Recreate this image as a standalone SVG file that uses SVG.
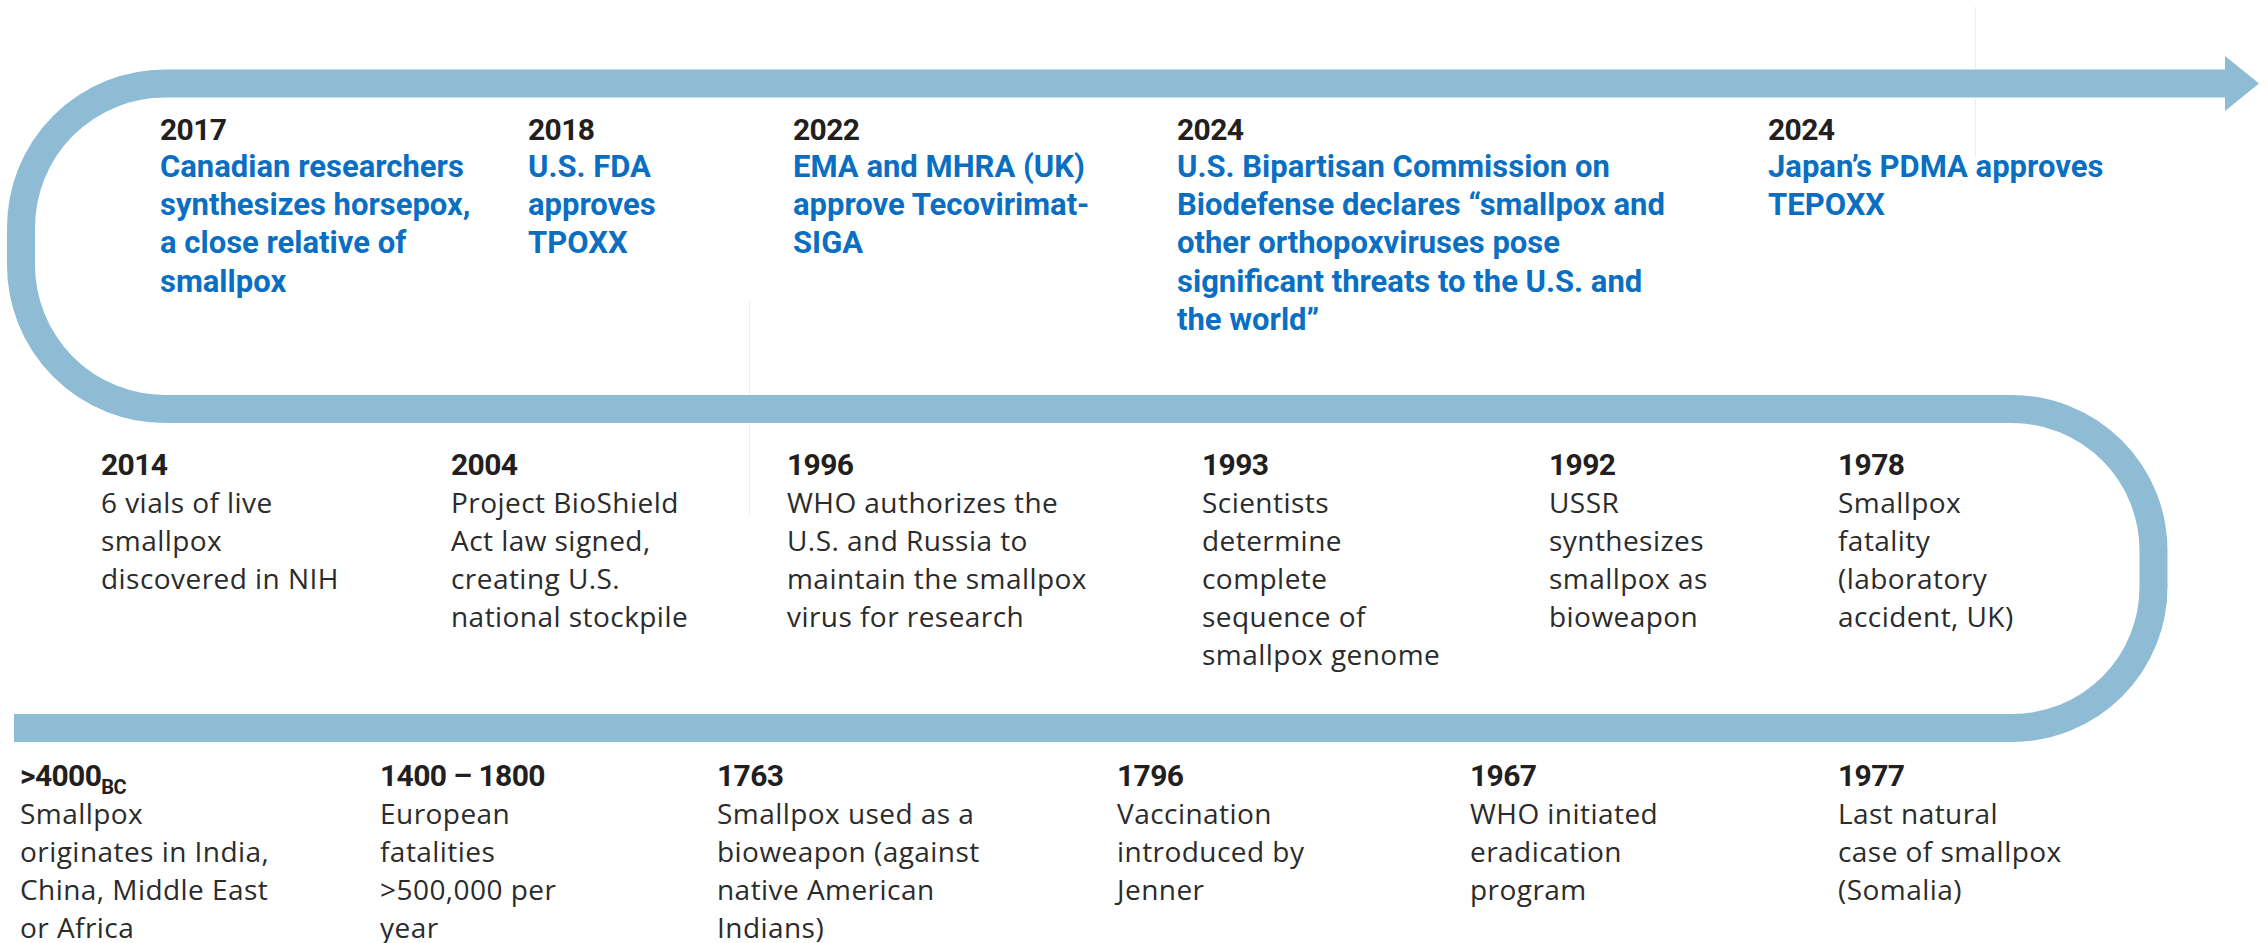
<svg xmlns="http://www.w3.org/2000/svg" width="2268" height="943" viewBox="0 0 2268 943">
<style>
.yr{font-family:Roboto,"Liberation Sans",sans-serif;font-weight:700;font-size:30px;letter-spacing:-0.6px;fill:#231F20}
.hl{font-family:Roboto,"Liberation Sans",sans-serif;font-weight:700;font-size:31px;fill:#0A6FC2}
.bd{font-family:"Open Sans","Liberation Sans",sans-serif;font-weight:400;font-size:28px;letter-spacing:0.45px;fill:#2B2B2B}
.band{fill:none;stroke:#8EBCD5;stroke-width:28}
.seam{stroke:#E4EEF5;stroke-width:1.2}
</style>
<rect width="2268" height="943" fill="#FFFFFF"/>
<g id="connectors">
<path class="band" d="M2226,83.5 H165 A144,144 0 0 0 21,227.5 V265 A144,144 0 0 0 165,409 H2012 A141.5,141.5 0 0 1 2153.5,550.5 V587 A141,141 0 0 1 2012.5,728 H14"/>
<polygon points="2225,56 2259,83.5 2225,111" fill="#8EBCD5"/>
<line class="seam" x1="749.5" y1="302" x2="749.5" y2="394"/>
<line class="seam" x1="749.5" y1="424" x2="749.5" y2="515"/>
<line class="seam" x1="1975.5" y1="7" x2="1975.5" y2="69"/>
<line class="seam" x1="1975.5" y1="98" x2="1975.5" y2="157"/>
</g>
<g id="ev-2017">
<text class="yr" x="160" y="140">2017</text>
<text class="hl"><tspan x="160" y="177">Canadian researchers</tspan><tspan x="160" y="215">synthesizes horsepox,</tspan><tspan x="160" y="253">a close relative of</tspan><tspan x="160" y="292">smallpox</tspan></text>
</g>
<g id="ev-2018">
<text class="yr" x="528" y="140">2018</text>
<text class="hl"><tspan x="528" y="177">U.S. FDA</tspan><tspan x="528" y="215">approves</tspan><tspan x="528" y="253">TPOXX</tspan></text>
</g>
<g id="ev-2022">
<text class="yr" x="793" y="140">2022</text>
<text class="hl"><tspan x="793" y="177">EMA and MHRA (UK)</tspan><tspan x="793" y="215">approve Tecovirimat-</tspan><tspan x="793" y="253">SIGA</tspan></text>
</g>
<g id="ev-2024a">
<text class="yr" x="1177" y="140">2024</text>
<text class="hl"><tspan x="1177" y="177">U.S. Bipartisan Commission on</tspan><tspan x="1177" y="215">Biodefense declares “smallpox and</tspan><tspan x="1177" y="253">other orthopoxviruses pose</tspan><tspan x="1177" y="292">significant threats to the U.S. and</tspan><tspan x="1177" y="330">the world”</tspan></text>
</g>
<g id="ev-2024b">
<text class="yr" x="1768" y="140">2024</text>
<text class="hl"><tspan x="1768" y="177">Japan’s PDMA approves</tspan><tspan x="1768" y="215">TEPOXX</tspan></text>
</g>
<g id="ev-2014">
<text class="yr" x="101" y="475">2014</text>
<text class="bd"><tspan x="101" y="513">6 vials of live</tspan><tspan x="101" y="551">smallpox</tspan><tspan x="101" y="589">discovered in NIH</tspan></text>
</g>
<g id="ev-2004">
<text class="yr" x="451" y="475">2004</text>
<text class="bd"><tspan x="451" y="513">Project BioShield</tspan><tspan x="451" y="551">Act law signed,</tspan><tspan x="451" y="589">creating U.S.</tspan><tspan x="451" y="627">national stockpile</tspan></text>
</g>
<g id="ev-1996">
<text class="yr" x="787" y="475">1996</text>
<text class="bd"><tspan x="787" y="513">WHO authorizes the</tspan><tspan x="787" y="551">U.S. and Russia to</tspan><tspan x="787" y="589">maintain the smallpox</tspan><tspan x="787" y="627">virus for research</tspan></text>
</g>
<g id="ev-1993">
<text class="yr" x="1202" y="475">1993</text>
<text class="bd"><tspan x="1202" y="513">Scientists</tspan><tspan x="1202" y="551">determine</tspan><tspan x="1202" y="589">complete</tspan><tspan x="1202" y="627">sequence of</tspan><tspan x="1202" y="665">smallpox genome</tspan></text>
</g>
<g id="ev-1992">
<text class="yr" x="1549" y="475">1992</text>
<text class="bd"><tspan x="1549" y="513">USSR</tspan><tspan x="1549" y="551">synthesizes</tspan><tspan x="1549" y="589">smallpox as</tspan><tspan x="1549" y="627">bioweapon</tspan></text>
</g>
<g id="ev-1978">
<text class="yr" x="1838" y="475">1978</text>
<text class="bd"><tspan x="1838" y="513">Smallpox</tspan><tspan x="1838" y="551">fatality</tspan><tspan x="1838" y="589">(laboratory</tspan><tspan x="1838" y="627">accident, UK)</tspan></text>
</g>
<g id="ev-4000bc">
<text class="yr" x="20" y="786">&gt;4000<tspan font-size="20" dy="8">BC</tspan></text>
<text class="bd"><tspan x="20" y="824">Smallpox</tspan><tspan x="20" y="862">originates in India,</tspan><tspan x="20" y="900">China, Middle East</tspan><tspan x="20" y="938">or Africa</tspan></text>
</g>
<g id="ev-1400">
<text class="yr" x="380" y="786">1400 – 1800</text>
<text class="bd"><tspan x="380" y="824">European</tspan><tspan x="380" y="862">fatalities</tspan><tspan x="380" y="900">&gt;500,000 per</tspan><tspan x="380" y="938">year</tspan></text>
</g>
<g id="ev-1763">
<text class="yr" x="717" y="786">1763</text>
<text class="bd"><tspan x="717" y="824">Smallpox used as a</tspan><tspan x="717" y="862">bioweapon (against</tspan><tspan x="717" y="900">native American</tspan><tspan x="717" y="938">Indians)</tspan></text>
</g>
<g id="ev-1796">
<text class="yr" x="1117" y="786">1796</text>
<text class="bd"><tspan x="1117" y="824">Vaccination</tspan><tspan x="1117" y="862">introduced by</tspan><tspan x="1117" y="900">Jenner</tspan></text>
</g>
<g id="ev-1967">
<text class="yr" x="1470" y="786">1967</text>
<text class="bd"><tspan x="1470" y="824">WHO initiated</tspan><tspan x="1470" y="862">eradication</tspan><tspan x="1470" y="900">program</tspan></text>
</g>
<g id="ev-1977">
<text class="yr" x="1838" y="786">1977</text>
<text class="bd"><tspan x="1838" y="824">Last natural</tspan><tspan x="1838" y="862">case of smallpox</tspan><tspan x="1838" y="900">(Somalia)</tspan></text>
</g>
</svg>
